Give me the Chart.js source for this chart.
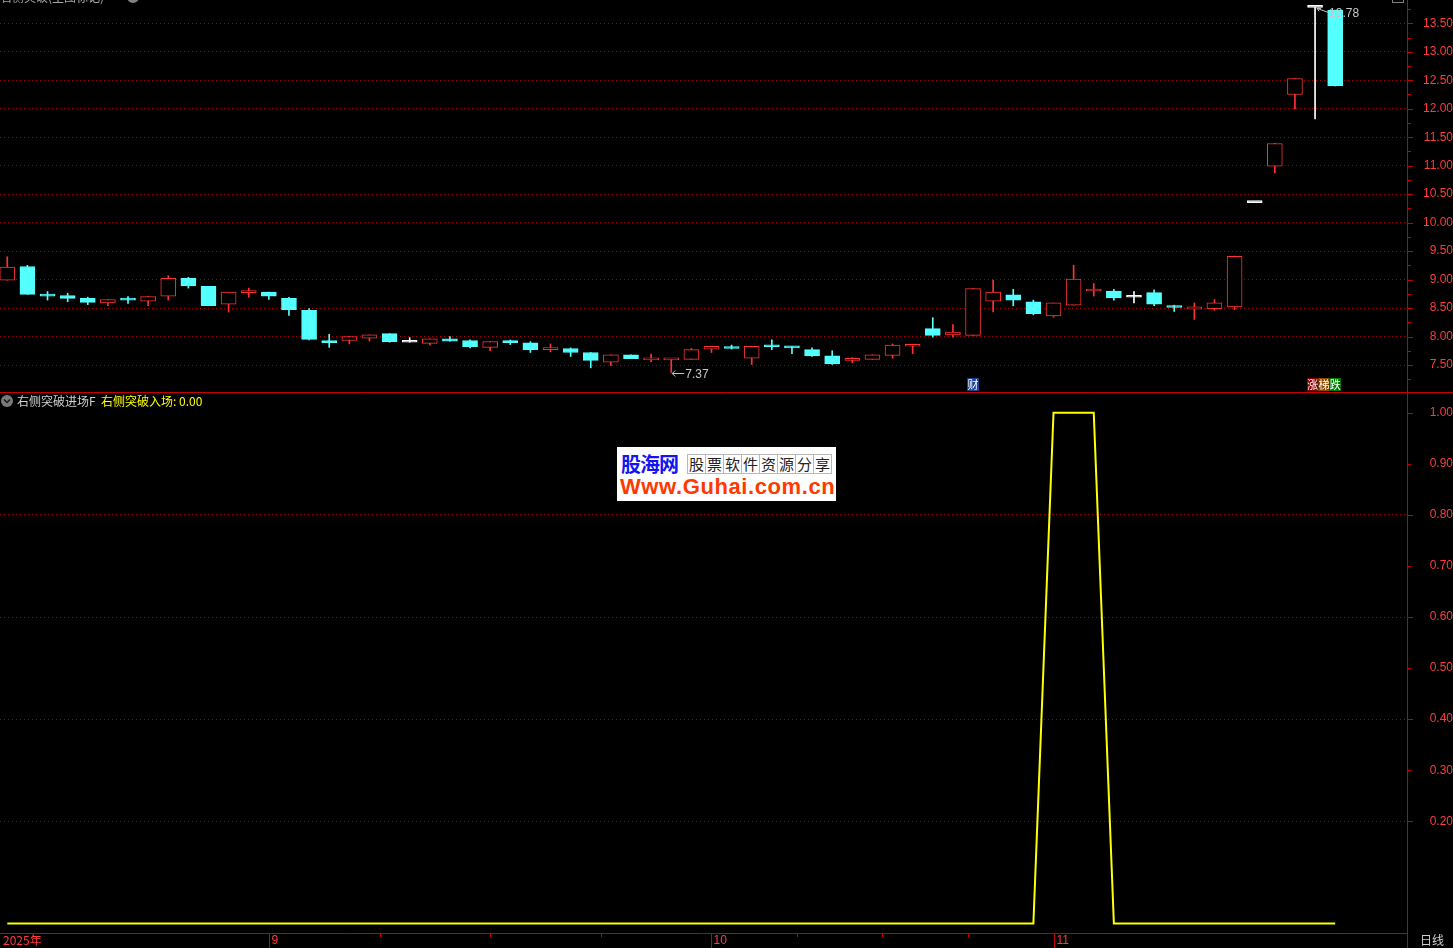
<!DOCTYPE html>
<html><head><meta charset="utf-8">
<script src="https://cdn.jsdelivr.net/npm/chart.js@4.4.1/dist/chart.umd.min.js"></script>
<style>
html,body{margin:0;padding:0;background:#000;overflow:hidden;width:1453px;height:948px}
canvas{position:absolute;left:0}
#top{top:0}
#bot{top:392px}
#wm{position:absolute;left:617px;top:447px;width:219px;height:54px;background:#fff;overflow:hidden}
#wm1{position:absolute;left:4px;top:6px;font:bold 20px/22px "Noto Sans CJK SC",sans-serif;color:#1414f0;letter-spacing:-1px}
#wm2{position:absolute;left:70px;top:7px;height:19px;display:flex}
#wm2 span{display:block;width:17px;height:18px;border:1px solid #b8b8b8;margin-right:-1px;font:15px/18px "Noto Sans CJK SC",sans-serif;color:#222;text-align:center}
#wm3{position:absolute;left:3px;top:28px;font:bold 22px/24px "Liberation Sans",Arial,sans-serif;color:#ff3a00;letter-spacing:0.6px}
</style></head><body>
<canvas id="top" width="1453" height="392"></canvas>
<canvas id="bot" width="1453" height="556"></canvas>
<div id="wm"><div id="wm1">股海网</div><div id="wm2"><span>股</span><span>票</span><span>软</span><span>件</span><span>资</span><span>源</span><span>分</span><span>享</span></div><div id="wm3">Www.Guhai.com.cn</div></div>
<script>
// ---------- data ----------
const days = ['08-13','08-14','08-15','08-18','08-19','08-20','08-21','08-22','08-25','08-26','08-27','08-28','08-29',
'09-01','09-02','09-03','09-04','09-05','09-08','09-09','09-10','09-11','09-12','09-15','09-16','09-17','09-18','09-19','09-22','09-23','09-24','09-25','09-26','09-29','09-30',
'10-09','10-10','10-13','10-14','10-15','10-16','10-17','10-20','10-21','10-22','10-23','10-24','10-27','10-28','10-29','10-30','10-31',
'11-03','11-04','11-05','11-06','11-07','11-10','11-11','11-12','11-13','11-14','11-17','11-18','11-19','11-20','11-21'];
const monthLabels = ['2025年','9','10','11'];
const opens  = [8.99,9.23,8.72,8.72,8.67,8.59,8.65,8.62,8.71,9.02,8.88,8.57,8.77,8.78,8.67,8.46,7.93,7.93,7.97,8.05,7.90,7.88,7.96,7.93,7.81,7.93,7.89,7.77,7.79,7.72,7.55,7.68,7.59,7.59,7.60,7.78,7.82,7.62,7.85,7.81,7.77,7.66,7.58,7.60,7.67,7.83,8.14,8.03,8.02,8.62,8.73,8.61,8.36,8.55,8.80,8.80,8.69,8.77,8.52,8.48,8.49,8.52,10.35,10.99,12.25,13.78,13.73];
const highs  = [9.40,9.25,8.79,8.76,8.69,8.65,8.70,8.70,9.07,9.04,8.88,8.78,8.85,8.78,8.69,8.49,8.04,8.00,8.03,8.05,7.98,7.96,8.00,7.94,7.91,7.94,7.91,7.87,7.80,7.72,7.68,7.68,7.69,7.60,7.79,7.83,7.85,7.83,7.94,7.83,7.80,7.75,7.63,7.68,7.87,7.84,8.33,8.21,8.84,8.99,8.83,8.64,8.59,9.25,8.93,8.83,8.79,8.82,8.55,8.59,8.65,9.41,10.35,11.39,12.53,13.78,13.73];
const lows   = [8.99,8.74,8.64,8.61,8.56,8.54,8.58,8.54,8.64,8.85,8.54,8.43,8.69,8.65,8.37,7.94,7.81,7.87,7.92,7.90,7.90,7.85,7.92,7.80,7.75,7.86,7.72,7.73,7.65,7.45,7.49,7.61,7.56,7.37,7.60,7.72,7.78,7.51,7.77,7.70,7.65,7.51,7.54,7.60,7.62,7.70,7.99,7.99,8.02,8.43,8.54,8.38,8.34,8.55,8.71,8.64,8.59,8.54,8.44,8.30,8.46,8.47,10.35,10.87,11.99,11.82,12.40];
const closes = [9.22,8.74,8.71,8.67,8.60,8.65,8.64,8.70,9.02,8.89,8.54,8.78,8.78,8.71,8.47,7.95,7.89,8.00,8.03,7.91,7.90,7.96,7.92,7.82,7.91,7.89,7.77,7.78,7.72,7.58,7.68,7.61,7.60,7.60,7.77,7.83,7.79,7.83,7.82,7.80,7.66,7.52,7.61,7.68,7.85,7.84,8.02,8.08,8.84,8.78,8.64,8.40,8.59,9.01,8.83,8.68,8.69,8.57,8.51,8.52,8.59,9.41,10.35,11.39,12.53,13.78,12.40];
const signal = [0,0,0,0,0,0,0,0,0,0,0,0,0,0,0,0,0,0,0,0,0,0,0,0,0,0,0,0,0,0,0,0,0,0,0,0,0,0,0,0,0,0,0,0,0,0,0,0,0,0,0,0,1,1,1,0,0,0,0,0,0,0,0,0,0,0,0];
const priceTicks = [7.5,8.0,8.5,9.0,9.5,10.0,10.5,11.0,11.5,12.0,12.5,13.0,13.5];
const signalTicks = [0.2,0.3,0.4,0.5,0.6,0.7,0.8,0.9,1.0];
const markerCai = {index:48, text:'财'};
const markerZT = {index:65, texts:['涨','梯','跌']};

// ---------- styles ----------
const UP='#ff3232', DOWN='#54ffff', FLAT='#ffffff';
const AXIS='#c80000', LBL='#ff3c3c', GRID='#a80000';
const NUM_FONT = '"Liberation Sans", Arial, sans-serif';
const CJK_FONT = '"Noto Sans CJK SC", sans-serif';
const XMIN=-0.3628, XMAX=69.57;
function kind(i){ return closes[i]>opens[i]?'up':(closes[i]<opens[i]?'down':'flat'); }
function col(i){ const k=kind(i); return k==='up'?UP:(k==='down'?DOWN:FLAT); }

const idx = days.map((d,i)=>i);
const bodyData = idx.map(i=>({x:i, y:[opens[i], closes[i]]}));
const wickData = idx.map(i=>({x:i, y:[lows[i], highs[i]]}));
const sigData = idx.map(i=>({x:i, y:signal[i]}));
const monthStarts = [0];
for (let i=1;i<days.length;i++){ if (days[i].slice(0,2)!==days[i-1].slice(0,2)) monthStarts.push(i); }

function fixAxis(s){ s.width=46; s.paddingTop=0; s.paddingBottom=0; }
function hline(ctx,x1,y,x2){ ctx.beginPath(); ctx.moveTo(x1,y); ctx.lineTo(x2,y); ctx.stroke(); }
function vline(ctx,x,y1,y2){ ctx.beginPath(); ctx.moveTo(x,y1); ctx.lineTo(x,y2); ctx.stroke(); }

const topDeco = {
  id:'topDeco',
  afterDraw(chart){
    const ctx=chart.ctx, ys=chart.scales.y, xs=chart.scales.x;
    ctx.save();
    ctx.strokeStyle=AXIS; ctx.lineWidth=1;
    vline(ctx,1407.5,0,392);
    for (let k=Math.ceil(ys.min*4); k<=Math.floor(ys.max*4); k++){
      const y=Math.round(ys.getPixelForValue(k/4))+0.5;
      hline(ctx,1408,y,1408+(k%2===0?5:3));
    }
    // extreme labels
    let hi=0, lo=0;
    highs.forEach((v,i)=>{ if(v>highs[hi]) hi=i; });
    lows.forEach((v,i)=>{ if(v<lows[lo]) lo=i; });
    ctx.strokeStyle='#c8c8c8'; ctx.fillStyle='#c8c8c8';
    ctx.font='12px '+NUM_FONT; ctx.textBaseline='middle'; ctx.textAlign='left';
    let x=xs.getPixelForValue(hi), y=ys.getPixelForValue(highs[hi]);
    ctx.beginPath(); ctx.moveTo(x+2,y+1); ctx.lineTo(x+13,y+5); ctx.stroke();
    ctx.beginPath(); ctx.moveTo(x+2,y+1); ctx.lineTo(x+6,y+1); ctx.moveTo(x+2,y+1); ctx.lineTo(x+4,y+4); ctx.stroke();
    ctx.fillText(highs[hi].toFixed(2), x+14, y+6);
    x=xs.getPixelForValue(lo); y=ys.getPixelForValue(lows[lo]);
    hline(ctx,x+1,Math.round(y)+1.5,x+13);
    ctx.beginPath(); ctx.moveTo(x+1,Math.round(y)+1.5); ctx.lineTo(x+4,Math.round(y)-1.5); ctx.moveTo(x+1,Math.round(y)+1.5); ctx.lineTo(x+4,Math.round(y)+4.5); ctx.stroke();
    ctx.fillText(lows[lo].toFixed(2), x+14, y+2);
    // markers
    ctx.font='11px '+CJK_FONT; ctx.textAlign='center';
    let mx=Math.round(xs.getPixelForValue(markerCai.index))-6;
    ctx.fillStyle='#1c3f8f'; ctx.fillRect(mx,378,12,13);
    ctx.fillStyle='#ffffff'; ctx.fillText(markerCai.text, mx+6, 385);
    const bg=['#8a0000','#8a4800','#007a00'];
    mx=Math.round(xs.getPixelForValue(markerZT.index))-8;
    markerZT.texts.forEach((t,j)=>{
      ctx.fillStyle=bg[j]; ctx.fillRect(mx+j*11.3,378,11.3,13);
      ctx.fillStyle='#ffffff'; ctx.fillText(t, mx+j*11.3+5.7, 385);
    });
    // clipped title / icons at very top
    ctx.fillStyle='#a8a8a8'; ctx.textAlign='left'; ctx.textBaseline='alphabetic';
    ctx.font='12px '+CJK_FONT; ctx.fillText('右侧突破(主图标记)', 0, 2);
    ctx.beginPath(); ctx.arc(133,-3,6,0,Math.PI*2); ctx.fillStyle='#808080'; ctx.fill();
    ctx.strokeStyle='#808080';
    ctx.strokeRect(1392.5,-8.5,11,11);
    ctx.restore();
  }
};

const botDeco = {
  id:'botDeco',
  afterDraw(chart){
    const ctx=chart.ctx, ys=chart.scales.y, xs=chart.scales.x;
    ctx.save();
    ctx.strokeStyle=AXIS; ctx.lineWidth=1;
    hline(ctx,0,0.5,1453);
    vline(ctx,1407.5,1,556);
    signalTicks.forEach(v=>{
      const y=Math.round(ys.getPixelForValue(v))+0.5;
      const even=Math.round(v*10)%2===0;
      hline(ctx,1408,y,1408+(even?5:3));
    });
    // x axis
    hline(ctx,0,541.5,1407);
    ctx.fillStyle=LBL; ctx.font='12px '+NUM_FONT; ctx.textBaseline='middle'; ctx.textAlign='left';
    monthStarts.forEach((m,j)=>{
      const x=Math.round(xs.getPixelForValue(m))+0.5;
      if (j>0){ vline(ctx,x,541,556); ctx.fillText(monthLabels[j], x+2, 549); }
      else { ctx.font='12px '+CJK_FONT; ctx.fillText(monthLabels[0], 3, 548); ctx.font='12px '+NUM_FONT; }
    });
    for (let j=1;j<monthStarts.length-1;j++){
      const a=monthStarts[j], b=monthStarts[j+1];
      for (let q=1;q<4;q++){
        const x=Math.round(xs.getPixelForValue(a+(b-a)*q/4))+0.5;
        vline(ctx,x,542,545);
      }
    }
    ctx.fillStyle='#d0d0d0'; ctx.font='12px '+CJK_FONT;
    ctx.fillText('日线', 1420, 548);
    // header
    ctx.beginPath(); ctx.arc(7,9,6,0,Math.PI*2); ctx.fillStyle='#7a7a7a'; ctx.fill();
    ctx.strokeStyle='#1a1a1a'; ctx.lineWidth=1.5;
    ctx.beginPath(); ctx.moveTo(4,7.5); ctx.lineTo(7,10.5); ctx.lineTo(10,7.5); ctx.stroke();
    ctx.fillStyle='#d0d0d0'; ctx.font='12px '+CJK_FONT;
    ctx.fillText('右侧突破进场F', 17, 9);
    ctx.fillStyle='#ffff00';
    ctx.fillText('右侧突破入场: '+signal[signal.length-1].toFixed(2), 101, 9);
    ctx.restore();
  }
};

new Chart(document.getElementById('top'), {
  type:'bar',
  data:{datasets:[
    {data:bodyData, grouped:false, barThickness:15, minBarLength:2, borderSkipped:false, borderWidth:1,
     backgroundColor:c=>kind(c.dataIndex)==='up'?'#000000':col(c.dataIndex),
     borderColor:c=>col(c.dataIndex), order:0},
    {data:wickData, grouped:false, barThickness:1, borderWidth:0, borderSkipped:false,
     backgroundColor:c=>col(c.dataIndex), order:1}
  ]},
  options:{
    responsive:false, animation:false, devicePixelRatio:1,
    layout:{padding:0},
    plugins:{legend:{display:false}, tooltip:{enabled:false}},
    scales:{
      x:{type:'linear', min:XMIN, max:XMAX, display:false, offset:false},
      y:{position:'right', min:7.026, max:13.909, afterFit:fixAxis,
         afterBuildTicks:s=>{ s.ticks = priceTicks.map(v=>({value:v})); },
         grid:{color:GRID, lineWidth:1, drawTicks:false},
         border:{display:false, dash:[1,3]},
         ticks:{color:LBL, font:{size:12, family:NUM_FONT}, crossAlign:'far', autoSkip:false, callback:v=>Number(v).toFixed(2)}}
    }
  },
  plugins:[topDeco]
});

new Chart(document.getElementById('bot'), {
  type:'line',
  data:{datasets:[{data:sigData, borderColor:'#ffff00', borderWidth:2, pointRadius:0, tension:0, fill:false}]},
  options:{
    responsive:false, animation:false, devicePixelRatio:1,
    layout:{padding:{top:1, bottom:15, left:0, right:0}},
    plugins:{legend:{display:false}, tooltip:{enabled:false}},
    scales:{
      x:{type:'linear', min:XMIN, max:XMAX, display:false},
      y:{position:'right', min:-0.0187, max:1.0386, afterFit:fixAxis,
         afterBuildTicks:s=>{ s.ticks = signalTicks.map(v=>({value:v})); },
         grid:{color:c=>{ const k=Math.round(c.tick.value*10); return (k%2===0 && k<10)?GRID:'rgba(0,0,0,0)'; }, lineWidth:1, drawTicks:false},
         border:{display:false, dash:[1,3]},
         ticks:{color:LBL, font:{size:12, family:NUM_FONT}, crossAlign:'far', autoSkip:false, callback:v=>Number(v).toFixed(2)}}
    }
  },
  plugins:[botDeco]
});
</script>
</body></html>
